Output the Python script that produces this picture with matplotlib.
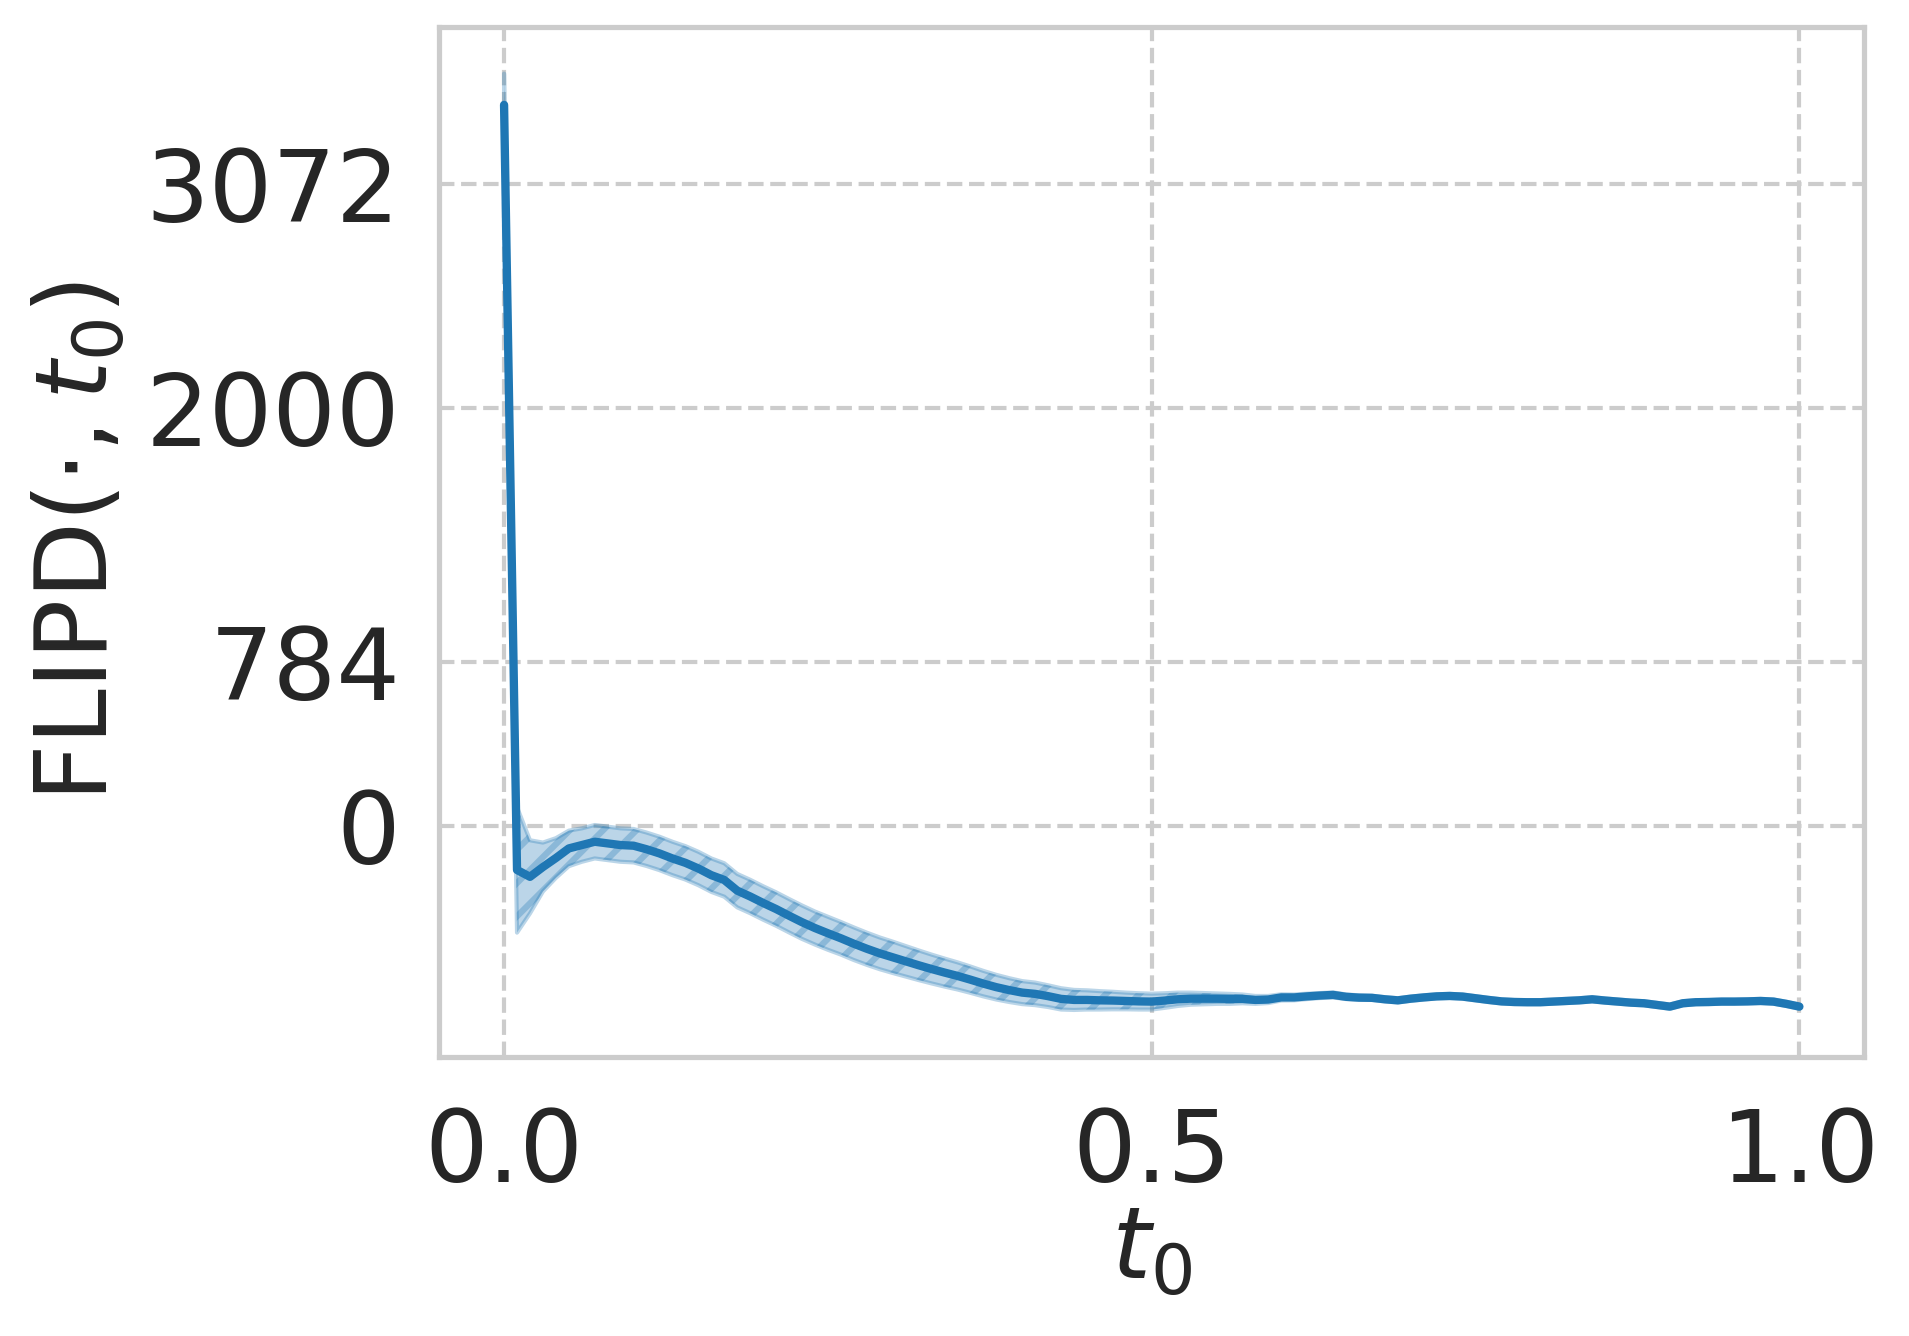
import numpy as np
import matplotlib
matplotlib.use("Agg")
import matplotlib.pyplot as plt
import seaborn as sns

# t0 grid (step 0.01)
t0 = np.round(np.arange(0, 101) * 0.01, 2)

# mean FLIPD estimate per t0
flipd_mean = [
    3450, -211, -244, -197, -154, -108, -92, -76, -84, -92,
    -95, -112, -132, -156, -177, -204, -236, -259, -310, -338,
    -369, -398, -430, -461, -489, -514, -538, -564, -588, -610,
    -629, -648, -667, -685, -702, -718, -736, -755, -772, -786,
    -798, -804, -815, -828, -833, -833, -835, -836, -838, -840,
    -841, -836, -830, -827, -827, -827, -828, -828, -833, -831,
    -821, -821, -816, -812, -809, -818, -822, -823, -830, -835,
    -827, -821, -816, -814, -817, -825, -833, -840, -843, -844,
    -844, -841, -838, -835, -830, -836, -841, -846, -849, -857,
    -865, -849, -844, -843, -841, -841, -840, -838, -841, -852,
    -865,
]

# spread (std) of the estimate
flipd_std = [
    150, 300, 175, 117, 95, 85, 80, 80, 80, 80,
    80, 80, 80, 80, 80, 80, 80, 80, 80, 80,
    80, 80, 80, 80, 79, 79, 78, 78, 77, 76,
    75, 73, 71, 69, 67, 65, 63, 61, 59, 57,
    55, 54, 52, 51, 48, 46, 44, 42, 40, 39,
    38, 35, 32, 29, 27, 25, 24, 21, 19, 17,
    15, 14, 13, 12, 12, 11, 11, 10, 10, 10,
    10, 10, 10, 10, 10, 10, 10, 10, 10, 10,
    10, 10, 10, 10, 10, 10, 10, 10, 10, 10,
    10, 10, 10, 10, 10, 10, 10, 10, 10, 10,
    10,
]

yticks = [0, 784, 2000, 3072]
xticks = [0.0, 0.5, 1.0]

sns.set_theme(style="whitegrid")
plt.rcParams['font.family'] = ['DejaVu Sans']
plt.rcParams['mathtext.fontset'] = 'dejavusans'
plt.rcParams['hatch.linewidth'] = 1.5

fig, ax = plt.subplots(figsize=(1910 / 300, 1336 / 300), dpi=300)
fig.subplots_adjust(left=0.230, right=0.976, top=0.980, bottom=0.209)

mean = np.array(flipd_mean, dtype=float)
std = np.array(flipd_std, dtype=float)

blue = "#1f77b4"
ax.plot(t0, mean, color=blue, lw=2.0)
ax.fill_between(t0, mean - std, mean + std, color=blue, alpha=0.3, hatch="///")

ax.set_yticks(yticks)
ax.set_xticks(xticks)
ax.set_xticklabels(["0.0", "0.5", "1.0"])
ax.tick_params(axis="both", labelsize=24)
ax.tick_params(axis="y", pad=3.4)
ax.tick_params(axis="x", pad=5.7)
ax.grid(True, linestyle="--", lw=1)
ax.set_xlabel(r"$t_0$", fontsize=24, labelpad=0)
ax.set_ylabel(r"FLIPD$(\cdot, t_0)$", fontsize=24)

fig.savefig("out.png", dpi=300)
